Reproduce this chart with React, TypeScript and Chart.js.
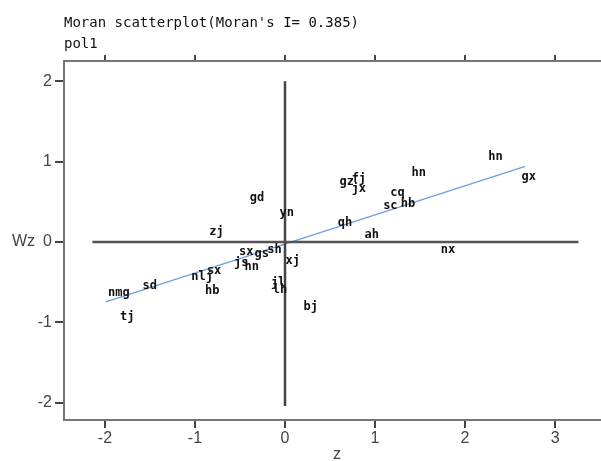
import React, { useEffect, useRef } from 'react';
import { Chart, registerables } from 'chart.js';

Chart.register(...registerables);

const TITLE = "Moran scatterplot(Moran's I= 0.385)";
const SUBTITLE = 'pol1';
const X_LABEL = 'z';
const Y_LABEL = 'Wz';
const X_TICKS = [-2, -1, 0, 1, 2, 3];
const Y_TICKS = [-2, -1, 0, 1, 2];

const REGIONS = [
  'gd', 'yn', 'zj', 'gz', 'fj', 'jx', 'hn', 'cq', 'sc', 'hb',
  'qh', 'ah', 'sx', 'gs', 'sh', 'js', 'hn', 'xj', 'nlj', 'sx',
  'hb', 'jl', 'lh', 'bj', 'nmg', 'sd', 'tj', 'hn', 'gx', 'nx',
];
const Z_VALUES = [
  -0.402, -0.073, -0.852, 0.594, 0.729, 0.729, 1.395, 1.157, 1.079, 1.274,
  0.574, 0.873, -0.523, -0.351, -0.209, -0.577, -0.462, -0.005, -1.053, -0.879,
  -0.9, -0.168, -0.146, 0.194, -1.976, -1.595, -1.844, 2.246, 2.615, 1.719,
];
const WZ_VALUES = [
  0.545, 0.368, 0.126, 0.742, 0.785, 0.655, 0.858, 0.613, 0.449, 0.48,
  0.235, 0.084, -0.12, -0.15, -0.1, -0.264, -0.315, -0.237, -0.432, -0.354,
  -0.608, -0.51, -0.593, -0.804, -0.628, -0.549, -0.933, 1.056, 0.815, -0.1,
];

const FIT_Z = [-1.99, 2.667];
const FIT_WZ = [-0.745, 0.94];
const HLINE_Z = [-2.14, 3.26];
const VLINE_WZ = [-2.04, 2.0];

const X_MIN = -2.455;
const X_MAX = 3.61;
const Y_MIN = -2.214;
const Y_MAX = 2.251;

const TICK_FONT = { family: 'Liberation Sans', size: 16 };

const labelPlugin = {
  id: 'regionLabels',
  afterDatasetsDraw(chart: any) {
    const ctx = chart.ctx;
    const meta = chart.getDatasetMeta(3);
    ctx.save();
    ctx.font = 'bold 12px "DejaVu Sans Mono"';
    ctx.fillStyle = '#111';
    ctx.textAlign = 'left';
    ctx.textBaseline = 'middle';
    meta.data.forEach((el: any, i: number) => {
      ctx.fillText(REGIONS[i], el.x + 1, el.y);
    });
    ctx.restore();
  },
};

const textPlugin = {
  id: 'texts',
  afterDraw(chart: any) {
    const { ctx, chartArea, scales } = chart;
    ctx.save();
    ctx.fillStyle = '#111';
    ctx.font = '14px "DejaVu Sans Mono"';
    ctx.textAlign = 'left';
    ctx.textBaseline = 'alphabetic';
    ctx.fillText(TITLE, chartArea.left, 26.5);
    ctx.fillText(SUBTITLE, chartArea.left, 47.5);
    ctx.font = '16px "Liberation Sans"';
    ctx.fillStyle = '#444';
    ctx.textBaseline = 'middle';
    ctx.fillText(Y_LABEL, 12, scales.y.getPixelForValue(0));
    ctx.textAlign = 'center';
    ctx.fillText(X_LABEL, (chartArea.left + chartArea.right) / 2, 455);
    ctx.restore();
  },
};

export default function App() {
  const ref = useRef<HTMLCanvasElement | null>(null);

  useEffect(() => {
    if (!ref.current) return;
    const points = REGIONS.map((_, i) => ({ x: Z_VALUES[i], y: WZ_VALUES[i] }));
    const chart = new Chart(ref.current, {
      type: 'scatter',
      data: {
        datasets: [
          {
            data: HLINE_Z.map((x) => ({ x, y: 0 })),
            showLine: true,
            borderColor: '#555',
            borderWidth: 2.5,
            pointRadius: 0,
          },
          {
            data: VLINE_WZ.map((y) => ({ x: 0, y })),
            showLine: true,
            borderColor: '#444',
            borderWidth: 2.5,
            pointRadius: 0,
          },
          {
            data: FIT_Z.map((x, i) => ({ x, y: FIT_WZ[i] })),
            showLine: true,
            borderColor: '#6e9fdc',
            borderWidth: 1.5,
            pointRadius: 0,
          },
          {
            data: points,
            pointRadius: 0,
            pointHoverRadius: 0,
          },
        ],
      },
      options: {
        animation: false,
        responsive: false,
        devicePixelRatio: 1,
        events: [],
        layout: { padding: { left: 0, right: 10, top: 55, bottom: 0 } },
        plugins: {
          legend: { display: false },
          tooltip: { enabled: false },
          title: { display: false },
        },
        scales: {
          x: {
            type: 'linear',
            position: 'bottom',
            min: X_MIN,
            max: X_MAX,
            afterBuildTicks: (s: any) => {
              s.ticks = X_TICKS.map((v) => ({ value: v }));
            },
            afterFit: (s: any) => {
              s.height = 41;
            },
            grid: { drawOnChartArea: false, drawTicks: true, tickLength: 8, color: '#444', lineWidth: 2 },
            border: { display: true, color: '#777', width: 2 },
            ticks: { font: TICK_FONT, color: '#444', padding: 1, callback: (v: any) => String(v) },
          },
          xTop: {
            type: 'linear',
            position: 'top',
            min: X_MIN,
            max: X_MAX,
            afterBuildTicks: (s: any) => {
              s.ticks = X_TICKS.map((v) => ({ value: v }));
            },
            afterFit: (s: any) => {
              s.height = 6;
            },
            grid: { drawOnChartArea: false, drawTicks: true, tickLength: 6, color: '#444', lineWidth: 2 },
            border: { display: true, color: '#777', width: 2 },
            ticks: { display: false },
          },
          y: {
            type: 'linear',
            position: 'left',
            min: Y_MIN,
            max: Y_MAX,
            afterBuildTicks: (s: any) => {
              s.ticks = Y_TICKS.map((v) => ({ value: v }));
            },
            afterFit: (s: any) => {
              s.width = 64;
            },
            grid: { drawOnChartArea: false, drawTicks: true, tickLength: 9, color: '#444', lineWidth: 2 },
            border: { display: true, color: '#777', width: 2 },
            ticks: { font: TICK_FONT, color: '#444', padding: 3, callback: (v: any) => String(v) },
          },
        },
      } as any,
      plugins: [labelPlugin, textPlugin],
    });
    return () => chart.destroy();
  }, []);

  return (
    <div
      style={{
        position: 'fixed',
        top: 0,
        left: 0,
        width: 601,
        height: 461,
        overflow: 'hidden',
        background: '#fff',
      }}
    >
      <canvas ref={ref} width={620} height={461} style={{ display: 'block' }} />
    </div>
  );
}
